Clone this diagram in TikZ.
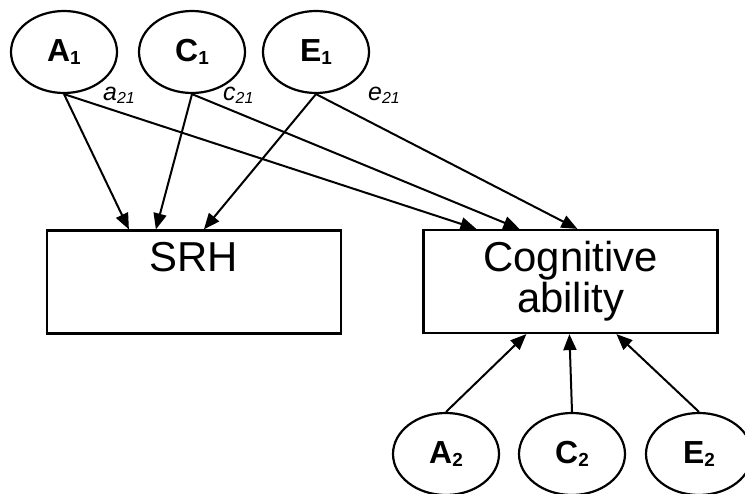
\documentclass[tikz,border=0pt]{standalone}
\usepackage{fontspec}
\setmainfont{Liberation Sans}
\usetikzlibrary{arrows.meta,calc,shapes.geometric}
\newcommand{\lat}[2]{\textbf{#1}\raisebox{-2.5bp}{\fontsize{19}{19}\selectfont\bfseries #2}}
\newcommand{\coef}[2]{\textit{#1}\raisebox{-3bp}{\fontsize{16}{16}\selectfont\itshape #2}}
\tikzset{
  >={Triangle[length=16bp,width=13bp]},
  latent/.style={draw,ellipse,line width=2.2bp,minimum width=106bp,minimum height=82bp,inner sep=0pt,font=\fontsize{32}{32}\selectfont},
  measured/.style={draw,line width=2.2bp,minimum width=294bp,minimum height=103bp,inner sep=0pt,align=center,font=\fontsize{42}{41}\selectfont},
  path/.style={->,line width=2bp},
  coeflabel/.style={anchor=base west,inner sep=0pt,font=\fontsize{25}{25}\selectfont},
}
\begin{document}
\begin{tikzpicture}[x=1bp,y=-1bp]
\useasboundingbox[fill=white] (0,0) rectangle (745,494);

% latent factors, trait 1
\node[latent] (a1) at (64,52) {\lat{A}{1}};
\node[latent] (c1) at (192,52) {\lat{C}{1}};
\node[latent] (e1) at (316,52) {\lat{E}{1}};

% observed variables
\node[measured] (srh) at (194,282) {SRH\\\phantom{y}};
\node[measured] (cog) at (570.5,281.5) {Cognitive\\ability};

% latent factors, trait 2
\node[latent] (a2) at (446,454) {\lat{A}{2}};
\node[latent] (c2) at (572,454) {\lat{C}{2}};
\node[latent] (e2) at (699,454) {\lat{E}{2}};

% paths to SRH
\draw[path] (a1.south) -- ([xshift=83bp]srh.north west);
\draw[path] (c1.south) -- ([xshift=110bp]srh.north west);
\draw[path] (e1.south) -- ([xshift=158bp]srh.north west);

% cross paths to cognitive ability
\draw[path] (a1.south) -- ([xshift=54bp]cog.north west);
\draw[path] (c1.south) -- ([xshift=97bp]cog.north west);
\draw[path] (e1.south) -- ([xshift=155bp]cog.north west);

\node[coeflabel] (la21) at (103,101) {\coef{a}{21}};
\node[coeflabel] (lc21) at (223,101) {\coef{c}{21}};
\node[coeflabel] (le21) at (368,101) {\coef{e}{21}};

% specific paths
\draw[path] (a2.north) -- ([xshift=104bp]cog.south west);
\draw[path] (c2.north) -- ([xshift=147bp]cog.south west);
\draw[path] (e2.north) -- ([xshift=194bp]cog.south west);

\end{tikzpicture}
\end{document}
